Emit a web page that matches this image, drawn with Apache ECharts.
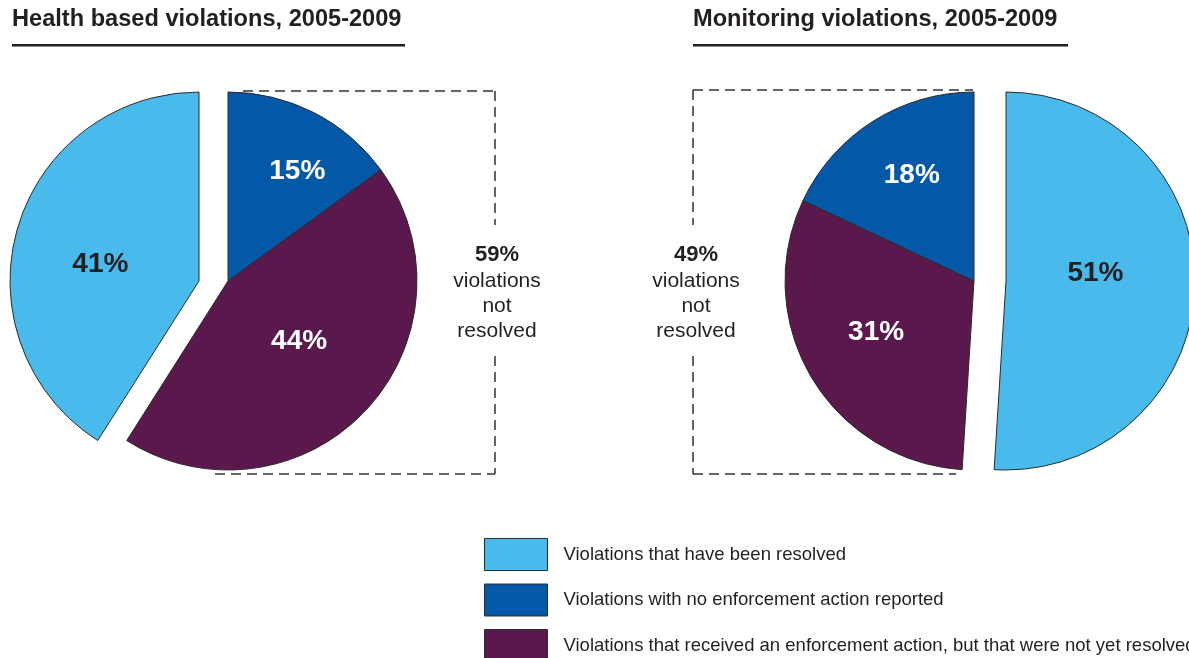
<!DOCTYPE html>
<html>
<head>
<meta charset="utf-8">
<script src="https://cdn.jsdelivr.net/npm/echarts@6/dist/echarts.min.js"></script>
<style>
html, body { margin: 0; padding: 0; background: #ffffff; }
#chart { width: 1189px; height: 658px; }
</style>
</head>
<body>
<div id="chart"></div>
<script>
// ---------------- data ----------------
const categories = [
  'Violations that have been resolved',
  'Violations with no enforcement action reported',
  'Violations that received an enforcement action, but that were not yet resolved'
];
const healthValues = [41, 15, 44];       // percent, same order as categories
const monitoringValues = [51, 18, 31];   // percent, same order as categories
const pieTitles = ['Health based violations, 2005-2009', 'Monitoring violations, 2005-2009'];
const notResolvedShares = ['59%', '49%'];
const notResolvedWords = ['violations', 'not', 'resolved'];

// ---------------- styles ----------------
const FONT = "'Liberation Sans', Arial, Helvetica, sans-serif";
const INK = '#231F20';
const colors = ['#48BBEC', '#0458A8', '#5B184C'];
const labelColors = [INK, '#FFFFFF', '#FFFFFF'];
const HIDDEN_STYLE = { color: 'rgba(0,0,0,0)', borderWidth: 0 };

function makeSeries(values, order, center, radius, showOnlyResolved, offsets) {
  const data = order.map(function (ci) {
    const visible = showOnlyResolved ? ci === 0 : ci !== 0;
    if (!visible) {
      return { name: '', value: values[ci], itemStyle: HIDDEN_STYLE, label: { show: false } };
    }
    return {
      name: categories[ci],
      value: values[ci],
      itemStyle: { color: colors[ci], borderColor: '#2b2b2b', borderWidth: 1 },
      label: { show: true, color: labelColors[ci] }
    };
  });
  return {
    type: 'pie',
    center: center,
    radius: radius,
    startAngle: 90,
    clockwise: true,
    silent: true,
    animation: false,
    avoidLabelOverlap: false,
    minShowLabelAngle: 0,
    emphasis: { disabled: true },
    labelLine: { show: false },
    label: {
      position: 'inside',
      fontFamily: FONT,
      fontSize: 28,
      fontWeight: 'bold',
      formatter: function (p) { return p.value + '%'; }
    },
    labelLayout: function (p) {
      const o = offsets[order[p.dataIndex]];
      return { dx: o[0], dy: o[1] };
    },
    data: data
  };
}

// clockwise order of slices starting at 12 o'clock
const leftOrder = [1, 2, 0];
const rightOrder = [0, 2, 1];
const leftOffsets = { 0: [-5, 10], 1: [25, -23], 2: [0, -6] };
const rightOffsets = { 0: [-8, -11], 1: [-10, -23], 2: [-14, 2] };

const R = 189;
const series = [
  makeSeries(healthValues, leftOrder, [228, 281], R, false, leftOffsets),
  makeSeries(healthValues, leftOrder, [199, 281], R, true, leftOffsets),
  makeSeries(monitoringValues, rightOrder, [974, 281], R, false, rightOffsets),
  makeSeries(monitoringValues, rightOrder, [1006, 281], R, true, rightOffsets)
];

// ---------------- graphics ----------------
const dash = { stroke: '#333333', lineWidth: 1.5, lineDash: [10, 6] };
function dline(x1, y1, x2, y2) {
  return { type: 'line', silent: true, shape: { x1: x1, y1: y1, x2: x2, y2: y2 }, style: dash };
}
function txt(x, y, text, size, weight) {
  return {
    type: 'text', silent: true, x: x, y: y,
    style: { text: text, fontFamily: FONT, fontSize: size, fontWeight: weight, fill: INK, align: 'center', verticalAlign: 'middle' }
  };
}

const graphics = [
  // titles
  { type: 'text', silent: true, x: 12, y: 19,
    style: { text: pieTitles[0], fontFamily: FONT, fontSize: 23.6, fontWeight: 'bold', fill: INK, align: 'left', verticalAlign: 'middle' } },
  { type: 'rect', silent: true, shape: { x: 12, y: 44, width: 393, height: 2.5 }, style: { fill: INK } },
  { type: 'text', silent: true, x: 693, y: 19,
    style: { text: pieTitles[1], fontFamily: FONT, fontSize: 23.6, fontWeight: 'bold', fill: INK, align: 'left', verticalAlign: 'middle' } },
  { type: 'rect', silent: true, shape: { x: 693, y: 44, width: 375, height: 2.5 }, style: { fill: INK } },

  // left bracket box
  dline(243, 91, 495, 91),
  dline(495, 91, 495, 225),
  dline(495, 356, 495, 474),
  dline(215, 474, 495, 474),
  // right bracket box
  dline(693, 90, 973, 90),
  dline(693, 90, 693, 225),
  dline(693, 356, 693, 474),
  dline(693, 474, 956, 474),

  // not resolved annotations
  txt(497, 255, notResolvedShares[0], 22, 'bold'),
  txt(497, 281, notResolvedWords[0], 21, 'normal'),
  txt(497, 306, notResolvedWords[1], 21, 'normal'),
  txt(497, 331, notResolvedWords[2], 21, 'normal'),
  txt(696, 255, notResolvedShares[1], 22, 'bold'),
  txt(696, 281, notResolvedWords[0], 21, 'normal'),
  txt(696, 306, notResolvedWords[1], 21, 'normal'),
  txt(696, 331, notResolvedWords[2], 21, 'normal')
];

const chart = echarts.init(document.getElementById('chart'), null, { renderer: 'canvas' });
chart.setOption({
  backgroundColor: '#ffffff',
  animation: false,
  legend: {
    type: 'plain',
    orient: 'vertical',
    left: 484,
    top: 538,
    width: 705,
    height: 200,
    padding: 0,
    itemWidth: 63,
    itemHeight: 32,
    itemGap: 12.5,
    icon: 'rect',
    selectedMode: false,
    data: categories,
    itemStyle: { borderColor: '#2b2b2b', borderWidth: 1 },
    textStyle: { fontFamily: FONT, fontSize: 18.5, color: INK, padding: [0, 0, 0, 11] }
  },
  series: series,
  graphic: graphics
});
</script>
</body>
</html>
